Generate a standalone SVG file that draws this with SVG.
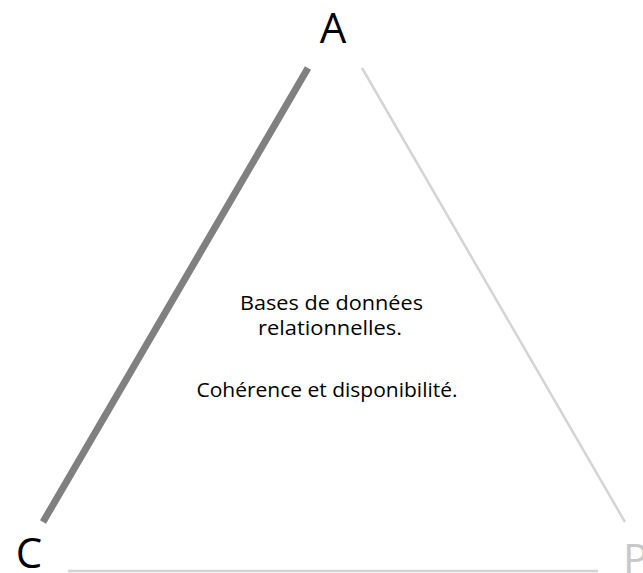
<svg xmlns="http://www.w3.org/2000/svg" width="643" height="573" viewBox="0 0 643 573">
<style>
.lbl{font-family:"Open Sans","Liberation Sans",sans-serif;text-anchor:middle}
.big{font-size:42px}
.body{font-size:19.5px;fill:#000}
</style>
<rect width="643" height="573" fill="#fff"/>
<g id="connectors">
<line x1="308" y1="68" x2="43" y2="522" stroke="#808080" stroke-width="7"/>
<line x1="362" y1="68" x2="625" y2="522" stroke="#d4d4d4" stroke-width="2.5"/>
<line x1="68" y1="571" x2="598" y2="571" stroke="#d4d4d4" stroke-width="2.5"/>
</g>
<g id="node-A"><text class="lbl big" x="333" y="43" fill="#000">A</text></g>
<g id="node-C"><text class="lbl big" x="29" y="568" fill="#000">C</text></g>
<g id="node-P"><text class="big" x="623" y="574" fill="#c8c8c8" font-family="Open Sans, Liberation Sans, sans-serif">P</text></g>
<g id="node-center">
<text class="lbl body" x="331.5" y="310" textLength="183" lengthAdjust="spacingAndGlyphs">Bases de données</text>
<text class="lbl body" x="330" y="335" textLength="144" lengthAdjust="spacingAndGlyphs">relationnelles.</text>
<text class="lbl body" x="327" y="397" textLength="261" lengthAdjust="spacingAndGlyphs">Cohérence et disponibilité.</text>
</g>
</svg>
